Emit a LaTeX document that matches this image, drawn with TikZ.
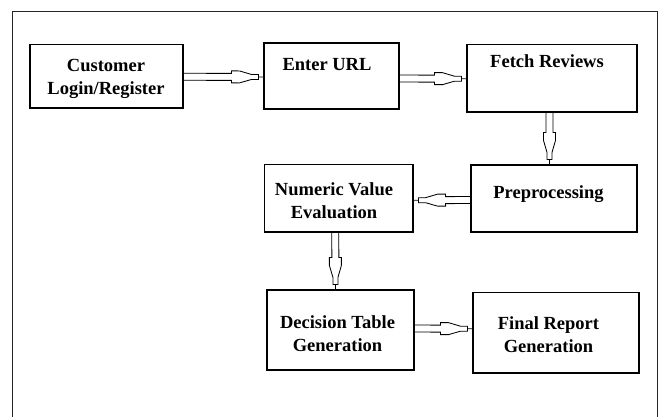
\documentclass[tikz,border=0pt]{standalone}
\usepackage{fontspec}
\setmainfont{Liberation Serif}
\usetikzlibrary{calc}
\tikzset{
  box/.style={draw, line width=1.1pt, inner sep=0pt},
  txt/.style={font=\bfseries\fontsize{18.5}{23}\selectfont, align=center, inner sep=0pt},
  frame/.style={draw=black!85, line width=0.9pt},
  barrow/.style={line width=0.85pt, line join=miter, to path={
    ($(\tikztostart)!3.5pt!90:(\tikztotarget)$)
    -- ($(\tikztotarget)!32pt!(\tikztostart)!3.5pt!-90:(\tikztostart)$)
    -- ($(\tikztotarget)!32pt!(\tikztostart)!6pt!-90:(\tikztostart)$)
    -- ($(\tikztotarget)!24pt!(\tikztostart)!6pt!-90:(\tikztostart)$)
    -- ($(\tikztotarget)!12pt!(\tikztostart)!2.5pt!-90:(\tikztostart)$)
    -- ($(\tikztotarget)!5pt!(\tikztostart)!2.5pt!-90:(\tikztostart)$)
    -- ($(\tikztotarget)!5pt!(\tikztostart)!2.5pt!90:(\tikztostart)$)
    -- ($(\tikztotarget)!12pt!(\tikztostart)!2.5pt!90:(\tikztostart)$)
    -- ($(\tikztotarget)!24pt!(\tikztostart)!6pt!90:(\tikztostart)$)
    -- ($(\tikztotarget)!32pt!(\tikztostart)!6pt!90:(\tikztostart)$)
    -- ($(\tikztotarget)!32pt!(\tikztostart)!3.5pt!90:(\tikztostart)$)
    -- ($(\tikztostart)!3.5pt!-90:(\tikztotarget)$)
    -- cycle
    ($(\tikztotarget)!5pt!(\tikztostart)$) -- (\tikztotarget)
  }}
}
\begin{document}
\begin{tikzpicture}[x=1pt, y=-1pt]
\useasboundingbox (0,0) rectangle (662,416);
\draw[frame] (12,11) rectangle (657,430);

% boxes
\node[box, minimum width=153pt, minimum height=63.5pt] (cust)  at (106.5,76.25) {};
\node[box, minimum width=135pt, minimum height=66pt]   (url)   at (331.5,76) {};
\node[box, minimum width=170pt, minimum height=67.5pt] (fetch) at (552,78.25) {};
\node[box, minimum width=166pt, minimum height=67pt]   (prep)  at (554,198.5) {};
\node[box, minimum width=148.5pt, minimum height=67.5pt] (num) at (338.75,198.25) {};
\node[box, minimum width=147pt, minimum height=80pt]   (dec)   at (340.5,330) {};
\node[box, minimum width=166pt, minimum height=80.5pt] (final) at (556,332.75) {};

% texts
\node[txt] (tcust)  at (106,78.5)  {Customer\\Login/Register};
\node[txt] (turl)   at (327,64.5)  {Enter URL};
\node[txt] (tfetch) at (547,61.5)  {Fetch Reviews};
\node[txt] (tnum)   at (334,201)   {Numeric Value\\Evaluation};
\node[txt] (tprep)  at (548.5,194) {Preprocessing};
\node[txt] (tdec)   at (337.5,334) {Decision Table\\Generation};
\node[txt] (tfinal) at (548.5,335) {Final Report\\Generation};

% connectors
\draw[barrow] ([yshift=-0.5pt]cust.east) to ([yshift=-1pt]url.west);
\draw[barrow] ([yshift=-2.5pt]url.east) to ([yshift=-0.5pt]fetch.west);
\draw[barrow] ([xshift=-2.5pt]fetch.south) to ([xshift=-4.5pt]prep.north);
\draw[barrow] ([yshift=-1.5pt]prep.west) to ([yshift=-2pt]num.east);
\draw[barrow] ([xshift=-3.5pt]num.south) to ([xshift=-5pt]dec.north);
\draw[barrow] ([yshift=1.5pt]dec.east) to ([yshift=4pt]final.west);
\end{tikzpicture}
\end{document}
